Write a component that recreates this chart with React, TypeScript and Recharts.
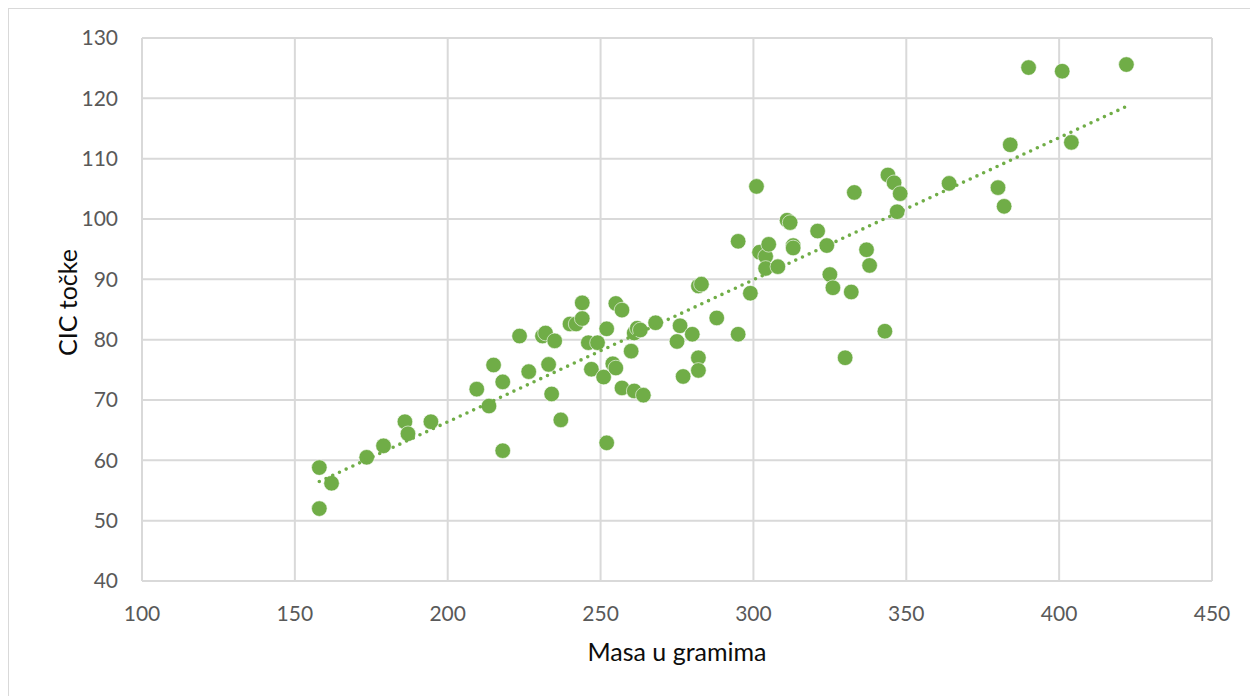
import React from 'react';
import { ScatterChart, Scatter, XAxis, YAxis, CartesianGrid, Label } from 'recharts';

const massGrams = [
  158, 158, 162, 173.5, 179, 186, 187, 194.5, 209.5, 213.5,
  215, 218, 218, 223.5, 226.5, 231, 232, 233, 234, 235,
  237, 240, 242, 244, 244, 246, 247, 249, 251, 252,
  252, 254, 255, 255, 257, 257, 260, 261, 261, 262,
  263, 264, 268, 275, 276, 277, 280, 282, 283, 282,
  282, 288, 295, 295, 299, 301, 302, 304, 304, 305,
  308, 311, 312, 313, 313, 321, 324, 325, 326, 330,
  332, 333, 337, 338, 343, 344, 346, 347, 348, 364,
  380, 382, 384, 390, 401, 404, 422,
];

const cicPoints = [
  58.8, 52, 56.2, 60.5, 62.4, 66.4, 64.4, 66.4, 71.8, 69,
  75.8, 73, 61.6, 80.6, 74.7, 80.6, 81.1, 75.9, 71, 79.8,
  66.7, 82.6, 82.6, 86.1, 83.5, 79.5, 75.1, 79.5, 73.8, 81.8,
  62.9, 76, 86, 75.3, 84.9, 72, 78.1, 81.1, 71.5, 81.9,
  81.6, 70.8, 82.8, 79.7, 82.3, 73.9, 80.9, 88.9, 89.2, 77,
  74.9, 83.6, 96.3, 80.9, 87.7, 105.4, 94.5, 93.8, 91.8, 95.8,
  92.1, 99.8, 99.4, 95.6, 95.2, 98, 95.6, 90.8, 88.6, 77,
  87.9, 104.4, 94.9, 92.3, 81.4, 107.3, 106, 101.2, 104.2, 105.9,
  105.2, 102.1, 112.3, 125.1, 124.5, 112.7, 125.6,
];

const xTicks = [100, 150, 200, 250, 300, 350, 400, 450];
const yTicks = [40, 50, 60, 70, 80, 90, 100, 110, 120, 130];

const xTitle = 'Masa u gramima';
const yTitle = 'CIC točke';

const GREEN = '#70ad47';
const FONT = 'Lato, "Open Sans", sans-serif';

const points = massGrams.map((m, i) => ({ x: m, y: cicPoints[i] }));

// Linear (least squares) trendline, like Excel's linear trendline
const n = points.length;
const meanX = points.reduce((s, p) => s + p.x, 0) / n;
const meanY = points.reduce((s, p) => s + p.y, 0) / n;
const sxy = points.reduce((s, p) => s + (p.x - meanX) * (p.y - meanY), 0);
const sxx = points.reduce((s, p) => s + (p.x - meanX) * (p.x - meanX), 0);
const slope = sxy / sxx;
const intercept = meanY - slope * meanX;
const minX = Math.min(...massGrams);
const maxX = Math.max(...massGrams);
const trend = [
  { x: minX, y: intercept + slope * minX },
  { x: maxX, y: intercept + slope * maxX },
];

const Dot = (props: any) => (
  <circle cx={props.cx} cy={props.cy} r={7.8} fill={GREEN} stroke="#ffffff" strokeWidth={0.6} />
);

const NoDot = () => <g />;

const renderXTitle = (props: any) => {
  const vb = props.viewBox || {};
  return (
    <text
      x={vb.x + vb.width / 2}
      y={vb.y + 80}
      textAnchor="middle"
      fontFamily={FONT}
      fontSize={25}
      fill="#0d0d0d"
    >
      {xTitle}
    </text>
  );
};

const renderYTitle = (props: any) => {
  const vb = props.viewBox || {};
  const cx = vb.x + 55;
  const cy = vb.y + vb.height / 2 - 7;
  return (
    <text
      x={cx}
      y={cy}
      transform={`rotate(-90, ${cx}, ${cy})`}
      textAnchor="middle"
      fontFamily={FONT}
      fontSize={25}
      fill="#0d0d0d"
    >
      {yTitle}
    </text>
  );
};

export default function App() {
  return (
    <div
      style={{
        position: 'relative',
        width: 1262,
        height: 700,
        border: '1px solid #d9d9d9',
        boxSizing: 'border-box',
        background: '#ffffff',
      }}
    >
      <ScatterChart
        width={1249}
        height={688}
        margin={{ top: 29, right: 46, left: 13, bottom: 56 }}
      >
        <CartesianGrid stroke="#d9d9d9" strokeWidth={2} />
        <XAxis
          type="number"
          dataKey="x"
          domain={[100, 450]}
          ticks={xTicks}
          height={60}
          axisLine={false}
          tickLine={false}
          tickSize={0}
          tickMargin={25}
          tick={{ fill: '#595959', fontSize: 21, fontFamily: FONT }}
          interval={0}
        >
          <Label content={renderXTitle} />
        </XAxis>
        <YAxis
          type="number"
          dataKey="y"
          domain={[40, 130]}
          ticks={yTicks}
          width={120}
          axisLine={false}
          tickLine={false}
          tickSize={0}
          tickMargin={24}
          tick={{ fill: '#595959', fontSize: 21, fontFamily: FONT }}
          interval={0}
        >
          <Label content={renderYTitle} />
        </YAxis>
        <Scatter data={points} shape={Dot} isAnimationActive={false} />
        <Scatter
          data={trend}
          shape={NoDot}
          line={{ stroke: GREEN, strokeWidth: 3.6, strokeDasharray: '0 7.4', strokeLinecap: 'round' }}
          isAnimationActive={false}
        />
      </ScatterChart>
    </div>
  );
}
